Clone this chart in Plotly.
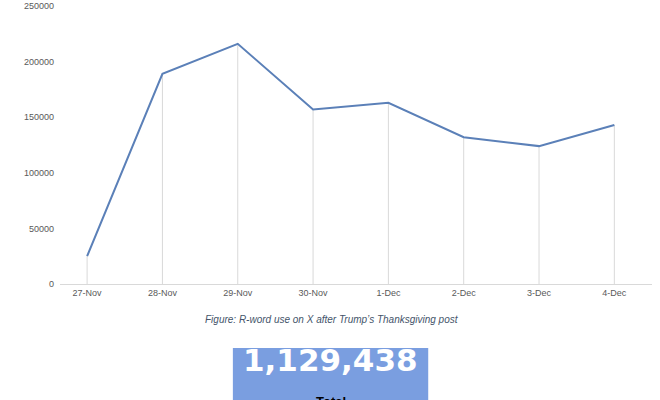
import plotly.graph_objects as go

dates = ["27-Nov", "28-Nov", "29-Nov", "30-Nov", "1-Dec", "2-Dec", "3-Dec", "4-Dec"]
uses = [25000, 189000, 216000, 157000, 163000, 132000, 124000, 143000]
total_label = "1,129,438"
caption = "Figure: R-word use on X after Trump’s Thanksgiving post"

fig = go.Figure()
fig.add_trace(go.Scatter(
    x=list(range(len(dates))), y=[0]*len(uses), mode="markers", marker=dict(size=0.1, opacity=0),
    error_y=dict(type="data", symmetric=False, array=uses, arrayminus=[0]*len(uses),
                 width=0, thickness=1, color="#d9d9d9"),
    hoverinfo="skip", showlegend=False))
fig.add_trace(go.Scatter(x=list(range(len(dates))), y=uses, mode="lines",
                         line=dict(color="#5b80b8", width=2), showlegend=False))

fig.update_layout(
    width=660, height=400, margin=dict(l=60, r=8, t=6, b=116, pad=0, autoexpand=False),
    plot_bgcolor="white", paper_bgcolor="white",
    font=dict(family="Liberation Sans", size=9, color="#595959"),
    xaxis=dict(showgrid=False, showline=True, linecolor="#d9d9d9", ticks="", automargin=False,
               range=[-0.36, 7.5], tickvals=list(range(len(dates))), ticktext=dates,
               tickfont=dict(size=9)),
    yaxis=dict(range=[0, 250000], dtick=50000, tickformat="d", showgrid=False, zeroline=False,
               automargin=False, tickfont=dict(size=9), ticksuffix="  "),
)
fig.add_annotation(text="<i>" + caption + "</i>", xref="paper", yref="paper",
                   x=0.46, y=-0.155, showarrow=False, font=dict(size=10, color="#44546a"))
fig.add_shape(type="rect", xref="paper", yref="paper", x0=0.292, x1=0.622, y0=-0.45, y1=-0.23,
              fillcolor="#7a9ee0", line=dict(width=0), layer="below")
fig.add_annotation(text="<b>" + total_label + "</b>", xref="paper", yref="paper",
                   x=0.457, y=-0.345, showarrow=False,
                   font=dict(size=31, color="white", family="DejaVu Sans"))
fig.add_annotation(text="<b>Total</b>", xref="paper", yref="paper", x=0.457, y=-0.39,
                   yanchor="top", showarrow=False, font=dict(size=13, color="black"))
fig.write_html("out.html", post_script="document.body.style.margin='0';",
               config={"displayModeBar": False})
